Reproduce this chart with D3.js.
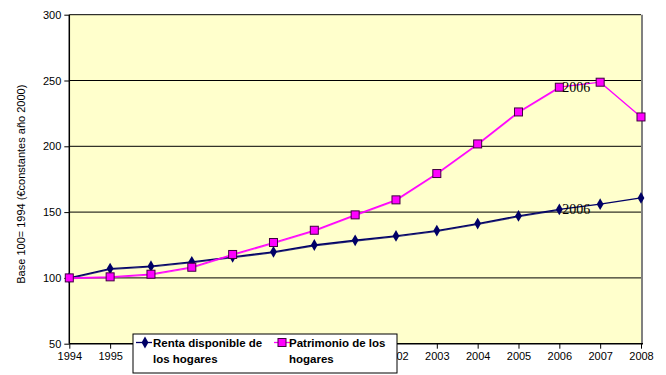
<!DOCTYPE html>
<html><head><meta charset="utf-8">
<script src="https://cdn.jsdelivr.net/npm/d3@7"></script>
<style>body{margin:0;background:#fff}svg{display:block}</style>
</head><body>
<script>
const years = [1994,1995,1996,1997,1998,1999,2000,2001,2002,2003,2004,2005,2006,2007,2008];
const renta = [100,107.1,108.9,112.2,116,119.8,125,128.6,131.9,136,141.3,147.1,152,156,160.8];
const patrimonio = [100,100.8,102.8,108.1,117.8,126.9,136.2,147.9,159.3,179.3,201.8,226.1,244.9,248.7,222.3];
const yTicks = [50,100,150,200,250,300];
const hiddenYearLabels = [1996,1997,1998,1999,2000,2001]; // covered by the legend in the reference
const labelYear = 2006;
const seriesNames = ["Renta disponible de|los hogares","Patrimonio de los|hogares"];
const yTitle = "Base 100= 1994 (€constantes año 2000)";

const W=666,H=375;
const svg=d3.select("body").append("svg").attr("width",W).attr("height",H);
const L=69.3,R=641,T=14.7,B=343.7;
const x=d3.scaleLinear().domain([1994,2008]).range([L,R]);
const y=d3.scaleLinear().domain([50,300]).range([B,T]);

svg.append("rect").attr("x",L).attr("y",T).attr("width",R-L).attr("height",B-T).attr("fill","#ffffcc");
svg.append("g").selectAll("line").data(yTicks.filter(d=>d>50)).join("line")
  .attr("x1",L).attr("x2",R).attr("y1",d=>y(d)).attr("y2",d=>y(d)).attr("stroke","#000").attr("stroke-width",1);
svg.append("line").attr("x1",R+1).attr("x2",R+1).attr("y1",T).attr("y2",B).attr("stroke","#808080").attr("stroke-width",2);

const font="Arial, 'Liberation Sans', sans-serif";
const yAxis=svg.append("g").attr("transform",`translate(${L},0)`)
  .call(d3.axisLeft(y).tickValues(yTicks).tickSize(5).tickPadding(3));
const xAxis=svg.append("g").attr("transform",`translate(0,${B})`)
  .call(d3.axisBottom(x).tickValues(years).tickFormat(d=>hiddenYearLabels.includes(d)?"":d3.format("d")(d)).tickSize(5).tickPadding(4));
[yAxis,xAxis].forEach(g=>{
  g.select(".domain").attr("stroke","#000").attr("stroke-width",1.5);
  g.selectAll(".tick line").attr("stroke","#000");
  g.selectAll("text").attr("font-family",font).attr("font-size",11).attr("fill","#000");
});
xAxis.select(".domain").attr("d",`M${L},0H${R+2}`);
yAxis.select(".domain").attr("d",`M0,${B}V${T}`);

svg.append("text").attr("transform",`translate(25,${(T+B)/2+5}) rotate(-90)`)
  .attr("text-anchor","middle").attr("font-family",font).attr("font-size",11).text(yTitle);

const line=d3.line().x((d,i)=>x(years[i])).y(d=>y(d));
const navy="#000066", pink="#ff00ff";
const idx=years.indexOf(labelYear);
[[renta,navy],[patrimonio,pink]].forEach(([s,c])=>{
  svg.append("path").datum(s).attr("d",line).attr("fill","none").attr("stroke",c).attr("stroke-width",1.3);
  svg.append("path").datum(s.slice(0,idx+1)).attr("d",line).attr("fill","none").attr("stroke",c).attr("stroke-width",1.2).attr("transform","translate(0,0.8)").attr("opacity",0.8);
});
const diamond=d3.symbol().type(d3.symbolDiamond).size(40);
svg.append("g").selectAll("path").data(renta).join("path")
  .attr("d",diamond).attr("transform",(d,i)=>`translate(${x(years[i])},${y(d)})`).attr("fill",navy);
svg.append("g").selectAll("rect").data(patrimonio).join("rect")
  .attr("x",(d,i)=>x(years[i])-4).attr("y",d=>y(d)-4).attr("width",8).attr("height",8)
  .attr("fill",pink).attr("stroke","#400040").attr("stroke-width",1);

[renta,patrimonio].forEach(s=>{
  svg.append("text").attr("x",x(labelYear)+3).attr("y",y(s[idx])+5)
    .attr("font-family","'Liberation Serif','Times New Roman',serif").attr("font-size",14).attr("fill","#000").text(labelYear);
});

const lg=svg.append("g");
lg.append("rect").attr("x",133).attr("y",334).attr("width",264).attr("height",39).attr("fill","#fff").attr("stroke","#000").attr("stroke-width",1);
const entries=[{c:navy,sym:"d",x0:136,tx:153},{c:pink,sym:"s",x0:274,tx:289}];
entries.forEach((e,k)=>{
  lg.append("line").attr("x1",e.x0).attr("x2",e.x0+16).attr("y1",342.5).attr("y2",342.5).attr("stroke",e.c).attr("stroke-width",1.3);
  if(e.sym==="d") lg.append("path").attr("d",diamond).attr("transform",`translate(${e.x0+9},342.5)`).attr("fill",e.c);
  else lg.append("rect").attr("x",e.x0+4).attr("y",338.5).attr("width",8).attr("height",8).attr("fill",e.c).attr("stroke","#400040");
  const parts=seriesNames[k].split("|");
  parts.forEach((p,j)=>lg.append("text").attr("x",e.tx).attr("y",347+j*16)
    .attr("font-family",font).attr("font-size",11.5).attr("font-weight","bold").text(p));
});
</script>
</body></html>
